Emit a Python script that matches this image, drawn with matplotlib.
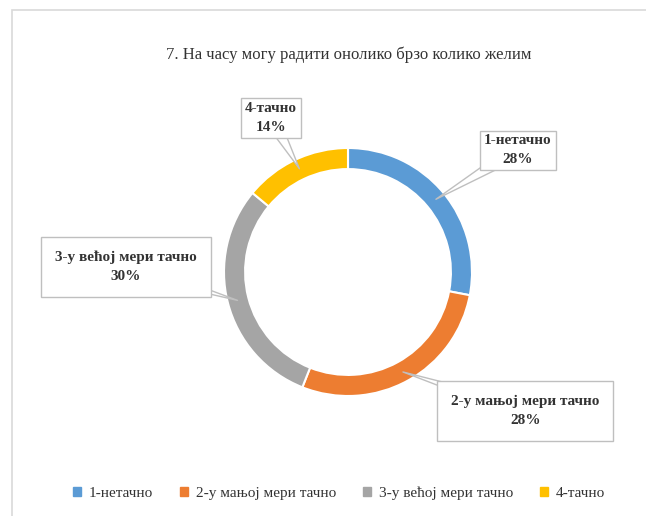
import matplotlib.pyplot as plt
import matplotlib.patches as patches
import numpy as np

plt.rcParams['font.family'] = ['Liberation Serif', 'DejaVu Serif']

title = "7. На часу могу радити онолико брзо колико желим"
labels = ["1-нетачно", "2-у мањој мери тачно", "3-у већој мери тачно", "4-тачно"]
values = [28, 28, 30, 14]
colors = ["#5B9BD5", "#ED7D31", "#A5A5A5", "#FFC000"]

# label box centres (data units, radius 1 = outer ring) and padding
box_pos = [(1.37, 0.98), (1.43, -1.12), (-1.79, 0.04), (-0.62, 1.24)]
box_pad = [0.25, 0.9, 0.9, 0.25]

W, H = 646, 516
fig = plt.figure(figsize=(W / 100, H / 100), dpi=100)
fig.patch.set_facecolor("white")
fig.patches.append(patches.Rectangle((12 / W, -0.01), 1.0, 1 - 10 / H + 0.01,
                                     transform=fig.transFigure, fill=False,
                                     ec="#D9D9D9", lw=1.2))

cx, cy, r = 348, 272, 124
ax = fig.add_axes([(cx - r) / W, (H - cy - r) / H, 2 * r / W, 2 * r / H])
wedges, _ = ax.pie(values, colors=colors, startangle=90, counterclock=False,
                   wedgeprops=dict(width=0.17, edgecolor="white", linewidth=1.5))
ax.set_xlim(-1, 1)
ax.set_ylim(-1, 1)
ax.set_aspect("equal")
ax.axis("off")

total = sum(values)
cum = 0
for i, v in enumerate(values):
    mid = (cum + v / 2) / total * 2 * np.pi
    cum += v
    tip = (0.92 * np.sin(mid), 0.92 * np.cos(mid))
    ax.annotate(f"{labels[i]}\n{v}%", xy=tip, xytext=box_pos[i],
                ha="center", va="center", fontsize=11, color="#333333",
                fontweight="bold", linespacing=1.6, annotation_clip=False,
                bbox=dict(boxstyle=f"square,pad={box_pad[i]}", fc="white", ec="#BFBFBF", lw=1),
                arrowprops=dict(arrowstyle="wedge,tail_width=1.0,shrink_factor=0.5",
                                fc="white", ec="#BFBFBF", lw=1,
                                patchA=None, shrinkA=0, shrinkB=0))

fig.text(0.54, 1 - 55 / H, title, ha="center", va="center", fontsize=12, color="#333333")

handles = [patches.Patch(color=c) for c in colors]
fig.legend(handles, labels, loc="center", bbox_to_anchor=(0.525, 1 - 493 / H), ncol=4,
           frameon=False, fontsize=11, handlelength=0.5, handleheight=0.5,
           columnspacing=1.8, handletextpad=0.5, labelcolor="#333333")

fig.savefig("out.png", dpi=100)
